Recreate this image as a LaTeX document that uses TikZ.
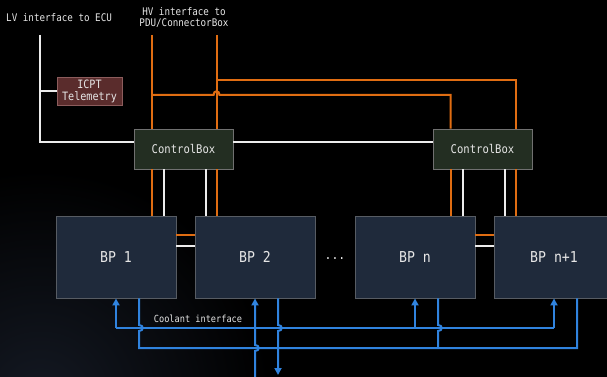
\documentclass[tikz,border=0pt]{standalone}
\usepackage{fontspec}
\newfontfamily\dfont{DejaVu Sans Mono}[FakeStretch=0.88]
\usetikzlibrary{arrows.meta,calc}
\definecolor{bg}{HTML}{000000}
\definecolor{txt}{HTML}{E6E6E6}
\definecolor{hvc}{HTML}{E06D12}
\definecolor{lvc}{HTML}{ECECEC}
\definecolor{coolc}{HTML}{3083DE}
\definecolor{cbfill}{HTML}{232E22}
\definecolor{cbdraw}{HTML}{707070}
\definecolor{icfill}{HTML}{5A2C2C}
\definecolor{icdraw}{HTML}{8C5C5C}
\definecolor{bpfill}{HTML}{1F2A3B}
\definecolor{bpdraw}{HTML}{575C63}
\definecolor{glow}{HTML}{141923}
\begin{document}
\begin{tikzpicture}[x=1pt,y=-1pt,
  lbl/.style={text=txt,font=\dfont\fontsize{10.5}{11}\selectfont,inner sep=0pt},
  cbox/.style={draw=cbdraw,fill=cbfill,line width=0.9pt,minimum width=99pt,minimum height=40pt,
    text=txt,font=\dfont\fontsize{12}{14}\selectfont,inner sep=0pt},
  icbox/.style={draw=icdraw,fill=icfill,line width=0.9pt,minimum width=65pt,minimum height=28pt,
    text=txt,font=\dfont\fontsize{11.5}{12}\selectfont,inner sep=0pt,align=center},
  bpbox/.style={draw=bpdraw,fill=bpfill,line width=0.9pt,minimum width=120pt,minimum height=82pt,
    text=txt,font=\dfont\fontsize{15}{17}\selectfont,inner sep=0pt},
  hv/.style={draw=hvc,line width=2pt},
  lv/.style={draw=lvc,line width=2pt},
  cool/.style={draw=coolc,line width=2pt},
  tip/.style={-{Triangle[width=7pt,length=7pt]}}
]
\fill[bg] (0,0) rectangle (607,377);
\begin{scope}
  \clip (0,0) rectangle (607,377);
  \fill[inner color=glow,outer color=bg] (40,400) circle (230pt);
\end{scope}
\useasboundingbox (0,0) rectangle (607,377);

% nodes
\node[cbox] (cb1) at (183.5,149) {ControlBox};
\node[cbox] (cb2) at (482.5,149) {ControlBox};
\node[icbox] (icpt) at (89.5,91) {ICPT\\Telemetry};
\node[bpbox] (bp1) at (116,257) {BP 1};
\node[bpbox] (bp2) at (255,257) {BP 2};
\node[bpbox] (bpn) at (415,257) {BP n};
\node[bpbox] (bpm) at (554,257) {BP n+1};
\node[lbl,anchor=west] (lv) at (6,18) {LV interface to ECU};
\node[lbl,align=center] (hvl) at (184,17.5) {HV interface to\\PDU/ConnectorBox};
\node[lbl,font=\dfont\fontsize{9.8}{11}\selectfont] (cool) at (198,319) {Coolant interface};
\node[text=txt,font=\dfont\fontsize{13}{15}\selectfont,inner sep=0pt] (dots) at (335,259) {...};

% helper coordinates
\foreach \c in {cb1,cb2}{
  \coordinate (\c o1) at ([xshift=18pt]\c.south west);
  \coordinate (\c w1) at ([xshift=30pt]\c.south west);
  \coordinate (\c w2) at ([xshift=72pt]\c.south west);
  \coordinate (\c o2) at ([xshift=83pt]\c.south west);
  \coordinate (\c to1) at ([xshift=18pt]\c.north west);
  \coordinate (\c to2) at ([xshift=83pt]\c.north west);
}
\coordinate (lvtop) at (40,35);
\coordinate (busA) at (0,95);
\coordinate (busB) at (0,80);
\coordinate (supY) at (0,328);
\coordinate (retY) at (0,348);
\coordinate (botY) at (0,377);
\coordinate (endY) at (0,375);
\foreach \b in {bp1,bp2,bpn,bpm}{
  \coordinate (\b out) at ([xshift=23pt]\b.south);
}

% LV (white)
\coordinate (lvY) at ([yshift=7pt]cb1.west);
\draw[lv] (lvtop) -- (lvtop |- lvY) -- (lvY);
\draw[lv] (icpt.west) -- (icpt.west -| lvtop);
\draw[lv] ([yshift=7pt]cb1.east) -- ([yshift=7pt]cb2.west);

% HV (orange)
\draw[hv] (cb1to1 |- lvtop) -- (cb1to1);
\draw[hv] (cb1to2 |- lvtop) -- (cb1to2);
\draw[hv] (cb1to2 |- busB) -- (cb2to2 |- busB) -- (cb2to2);
\coordinate (jA) at (cb1to2 |- busA);
\draw[hv] (cb1to1 |- busA) -- ([xshift=-3pt]jA)
  .. controls ([xshift=-3pt,yshift=5pt]jA) and ([xshift=3pt,yshift=5pt]jA) .. ([xshift=3pt]jA)
  -- (cb2to1 |- busA) -- (cb2to1);

% ControlBox to BPs
\draw[hv] (cb1o1) -- (cb1o1 |- bp1.north);
\draw[lv] (cb1w1) -- (cb1w1 |- bp1.north);
\draw[lv] (cb1w2) -- (cb1w2 |- bp2.north);
\draw[hv] (cb1o2) -- (cb1o2 |- bp2.north);
\draw[hv] (cb2o1) -- (cb2o1 |- bpn.north);
\draw[lv] (cb2w1) -- (cb2w1 |- bpn.north);
\draw[lv] (cb2w2) -- (cb2w2 |- bpm.north);
\draw[hv] (cb2o2) -- (cb2o2 |- bpm.north);

% BP to BP
\draw[hv] ([yshift=22pt]bp1.east) -- ([yshift=22pt]bp2.west);
\draw[lv] ([yshift=11pt]bp1.east) -- ([yshift=11pt]bp2.west);
\draw[hv] ([yshift=22pt]bpn.east) -- ([yshift=22pt]bpm.west);
\draw[lv] ([yshift=11pt]bpn.east) -- ([yshift=11pt]bpm.west);

% Coolant supply
\draw[cool] (bp1.south |- supY) -- (bpm.south |- supY);
\draw[cool,tip] (bp1.south |- supY) -- (bp1.south);
\draw[cool,tip] (bpn.south |- supY) -- (bpn.south);
\draw[cool,tip] (bpm.south |- supY) -- (bpm.south);
\coordinate (j2) at (bp2.south |- retY);
\draw[cool,tip] (bp2.south |- botY) -- ([yshift=-3pt]j2)
  .. controls ([xshift=5pt,yshift=-3pt]j2) and ([xshift=5pt,yshift=3pt]j2) .. ([yshift=3pt]j2)
  -- (bp2.south);

% Coolant return
\coordinate (k1) at (bp1out |- supY);
\draw[cool] (bp1out) -- ([yshift=3pt]k1)
  .. controls ([xshift=5pt,yshift=3pt]k1) and ([xshift=5pt,yshift=-3pt]k1) .. ([yshift=-3pt]k1)
  -- (bp1out |- retY) -- (bpmout |- retY) -- (bpmout);
\coordinate (k2) at (bp2out |- supY);
\draw[cool,tip] (bp2out) -- ([yshift=3pt]k2)
  .. controls ([xshift=5pt,yshift=3pt]k2) and ([xshift=5pt,yshift=-3pt]k2) .. ([yshift=-3pt]k2)
  -- (bp2out |- endY);
\coordinate (k3) at (bpnout |- supY);
\draw[cool] (bpnout) -- ([yshift=3pt]k3)
  .. controls ([xshift=5pt,yshift=3pt]k3) and ([xshift=5pt,yshift=-3pt]k3) .. ([yshift=-3pt]k3)
  -- (bpnout |- retY);
\end{tikzpicture}
\end{document}
